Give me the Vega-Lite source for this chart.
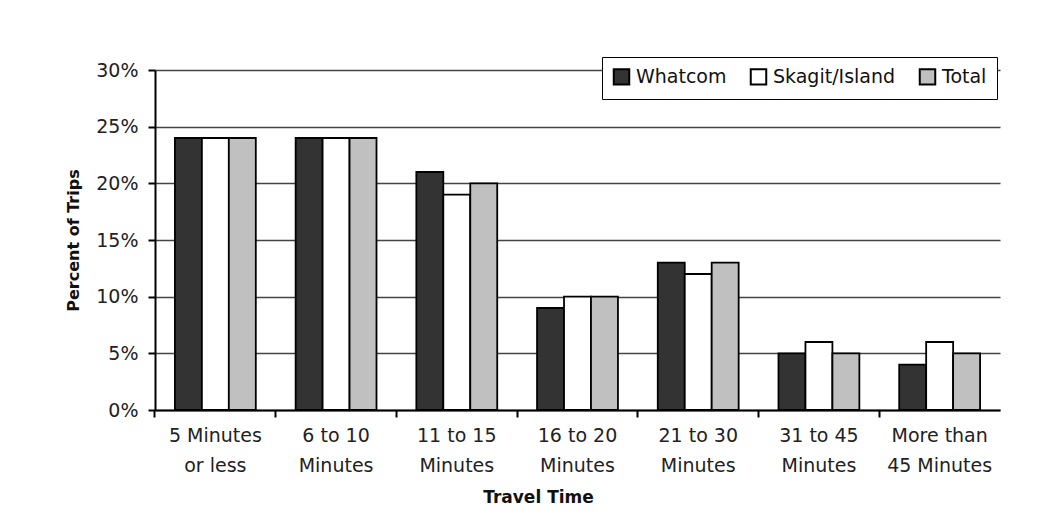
{
  "$schema": "https://vega.github.io/schema/vega-lite/v6.json",
  "autosize": {"type": "none"},
  "width": 845,
  "height": 340,
  "padding": {"left": 155, "top": 70, "right": 55, "bottom": 114},
  "background": "white",
  "config": {
    "font": "DejaVu Sans",
    "view": {"stroke": null},
    "axis": {"labelFont": "DejaVu Sans", "titleFont": "DejaVu Sans", "labelColor": "#222", "titleColor": "#111"}
  },
  "data": {
    "values": [
      {"time": "5 Minutes or less", "region": "Whatcom", "pct": 24},
      {"time": "5 Minutes or less", "region": "Skagit/Island", "pct": 24},
      {"time": "5 Minutes or less", "region": "Total", "pct": 24},
      {"time": "6 to 10 Minutes", "region": "Whatcom", "pct": 24},
      {"time": "6 to 10 Minutes", "region": "Skagit/Island", "pct": 24},
      {"time": "6 to 10 Minutes", "region": "Total", "pct": 24},
      {"time": "11 to 15 Minutes", "region": "Whatcom", "pct": 21},
      {"time": "11 to 15 Minutes", "region": "Skagit/Island", "pct": 19},
      {"time": "11 to 15 Minutes", "region": "Total", "pct": 20},
      {"time": "16 to 20 Minutes", "region": "Whatcom", "pct": 9},
      {"time": "16 to 20 Minutes", "region": "Skagit/Island", "pct": 10},
      {"time": "16 to 20 Minutes", "region": "Total", "pct": 10},
      {"time": "21 to 30 Minutes", "region": "Whatcom", "pct": 13},
      {"time": "21 to 30 Minutes", "region": "Skagit/Island", "pct": 12},
      {"time": "21 to 30 Minutes", "region": "Total", "pct": 13},
      {"time": "31 to 45 Minutes", "region": "Whatcom", "pct": 5},
      {"time": "31 to 45 Minutes", "region": "Skagit/Island", "pct": 6},
      {"time": "31 to 45 Minutes", "region": "Total", "pct": 5},
      {"time": "More than 45 Minutes", "region": "Whatcom", "pct": 4},
      {"time": "More than 45 Minutes", "region": "Skagit/Island", "pct": 6},
      {"time": "More than 45 Minutes", "region": "Total", "pct": 5}
    ]
  },
  "mark": {"type": "bar", "stroke": "black", "strokeWidth": 1.8},
  "encoding": {
    "x": {
      "field": "time",
      "type": "nominal",
      "sort": null,
      "scale": {"paddingInner": 0.33, "paddingOuter": 0.165},
      "axis": {
        "title": "Travel Time",
        "titleFontSize": 17,
        "titleFontWeight": "bold",
        "titleX": 383,
        "titlePadding": 14,
        "labelAngle": 0,
        "labelFontSize": 19,
        "labelPadding": 9,
        "labelLineHeight": 30,
        "labelExpr": "datum.label == '5 Minutes or less' ? ['5 Minutes', 'or less'] : datum.label == 'More than 45 Minutes' ? ['More than', '45 Minutes'] : [replace(datum.label, ' Minutes', ''), 'Minutes']",
        "bandPosition": -0.247,
        "tickColor": "black",
        "tickWidth": 2,
        "tickSize": 7,
        "domainColor": "black",
        "domainWidth": 2,
        "grid": false
      }
    },
    "xOffset": {
      "field": "region",
      "type": "nominal",
      "sort": ["Whatcom", "Skagit/Island", "Total"],
      "scale": {"paddingInner": 0, "paddingOuter": 0}
    },
    "y": {
      "field": "pct",
      "type": "quantitative",
      "scale": {"domain": [0, 30], "nice": false},
      "axis": {
        "title": "Percent of Trips",
        "titleFontSize": 16,
        "titleFontWeight": "bold",
        "titlePadding": 14,
        "values": [0, 5, 10, 15, 20, 25, 30],
        "labelExpr": "datum.value + '%'",
        "labelFontSize": 19,
        "labelPadding": 10,
        "tickColor": "black",
        "tickWidth": 2,
        "tickSize": 7,
        "domainColor": "black",
        "domainWidth": 2,
        "grid": true,
        "gridColor": "#444",
        "gridWidth": 1.5
      }
    },
    "color": {
      "field": "region",
      "type": "nominal",
      "sort": ["Whatcom", "Skagit/Island", "Total"],
      "scale": {"domain": ["Whatcom", "Skagit/Island", "Total"], "range": ["#333333", "#ffffff", "#c0c0c0"]},
      "legend": {
        "title": null,
        "orient": "none",
        "legendX": 447,
        "legendY": -13,
        "direction": "horizontal",
        "symbolType": "square",
        "symbolSize": 240,
        "symbolStrokeColor": "black",
        "symbolStrokeWidth": 2,
        "symbolOpacity": 1,
        "labelFontSize": 19,
        "labelColor": "#111",
        "labelOffset": 5,
        "columnPadding": 19,
        "padding": 10,
        "strokeColor": "black",
        "fillColor": "white"
      }
    }
  }
}
